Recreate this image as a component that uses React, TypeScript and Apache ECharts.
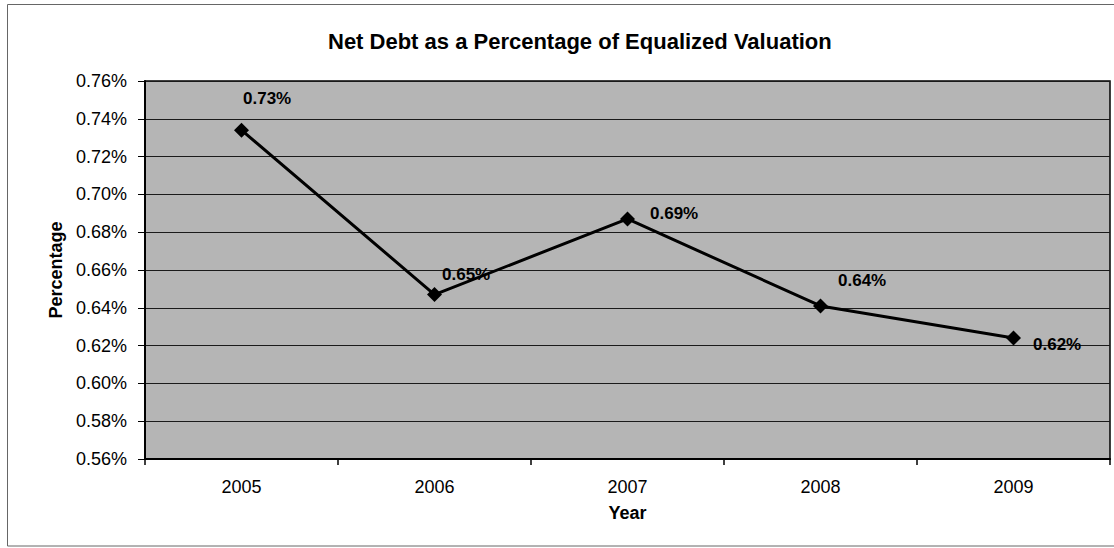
import React, { useEffect, useRef } from "react";
import * as echarts from "echarts";

const years = ["2005", "2006", "2007", "2008", "2009"];
const netDebtPct = [0.734, 0.647, 0.687, 0.641, 0.624];
const yMin = 0.56;
const yMax = 0.76;
const yStep = 0.02;

const labelOffsets: [number, number][] = [
  [-11, -32],
  [-5, -20],
  [10, -5],
  [5, -25],
  [7, 6],
];

const FONT = "'Liberation Sans', Arial, sans-serif";

export default function App() {
  const ref = useRef<HTMLDivElement>(null);
  useEffect(() => {
    if (!ref.current) return;
    const chart = echarts.init(ref.current, undefined, { renderer: "svg" });
    chart.setOption({
      animation: false,
      backgroundColor: "#ffffff",
      title: {
        text: "Net Debt as a Percentage of Equalized Valuation",
        left: 323,
        top: 25,
        textStyle: { fontFamily: FONT, fontSize: 22, fontWeight: "bold", color: "#000" },
      },
      graphic: [
        {
          type: "rect",
          shape: { x: 7.5, y: 4.5, width: 1120, height: 541.5 },
          style: { fill: "none", stroke: "#666", lineWidth: 1 },
          silent: true,
        },
      ],
      grid: {
        left: 145,
        top: 81,
        right: 4,
        bottom: 89,
        show: true,
        backgroundColor: "#b5b5b5",
        borderColor: "#000",
        borderWidth: 1.5,
      },
      xAxis: {
        type: "category",
        data: years,
        boundaryGap: true,
        name: "Year",
        nameLocation: "middle",
        nameGap: 45,
        nameTextStyle: { fontFamily: FONT, fontSize: 18, fontWeight: "bold", color: "#000" },
        axisLine: { lineStyle: { color: "#000", width: 2 } },
        axisTick: { show: true, alignWithLabel: false, length: 6, lineStyle: { color: "#000", width: 1.5 } },
        axisLabel: { fontFamily: FONT, fontSize: 18, color: "#000", margin: 19 },
        splitLine: { show: false },
      },
      yAxis: {
        type: "value",
        min: yMin,
        max: yMax,
        interval: yStep,
        name: "Percentage",
        nameLocation: "middle",
        nameGap: 79,
        nameRotate: 90,
        nameTextStyle: { fontFamily: FONT, fontSize: 18, fontWeight: "bold", color: "#000" },
        axisLine: { show: true, lineStyle: { color: "#000", width: 2 } },
        axisTick: { show: true, length: 7, lineStyle: { color: "#000", width: 1 } },
        axisLabel: {
          fontFamily: FONT,
          fontSize: 18,
          color: "#000",
          margin: 18,
          formatter: (v: number) => v.toFixed(2) + "%",
        },
        splitLine: { show: true, lineStyle: { color: "#1a1a1a", width: 1 } },
      },
      series: [
        {
          type: "line",
          data: netDebtPct.map((v, i) => ({
            value: v,
            label: { offset: labelOffsets[i] },
          })),
          symbol: "diamond",
          symbolSize: 15,
          lineStyle: { color: "#000", width: 3 },
          itemStyle: { color: "#000" },
          label: {
            show: true,
            position: "right",
            fontFamily: FONT,
            fontSize: 17,
            fontWeight: "bold",
            color: "#000",
            formatter: (p: any) => Number(p.value).toFixed(2) + "%",
          },
        },
      ],
    });
    return () => chart.dispose();
  }, []);
  return (
    <div
      ref={ref}
      style={{ position: "absolute", left: 0, top: 0, width: 1114, height: 548 }}
    />
  );
}
